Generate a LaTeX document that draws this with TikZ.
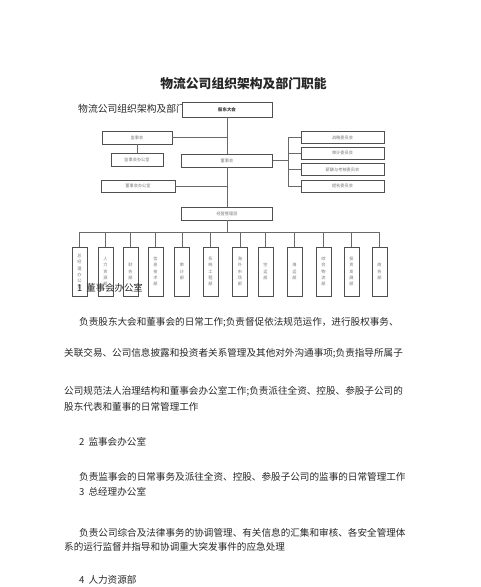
\documentclass[tikz,border=0pt]{standalone}
\usepackage{fontspec}
\setmainfont{Liberation Serif}
\newfontfamily\cjk{Noto Sans CJK SC}
\definecolor{linec}{RGB}{105,105,105}
\definecolor{boxc}{RGB}{80,80,80}
\definecolor{txtc}{RGB}{40,40,40}
\definecolor{smallc}{RGB}{120,120,120}
\begin{document}
\begin{tikzpicture}[x=1pt,y=-1pt,
  box/.style={draw=boxc, line width=0.9pt, inner sep=0pt, fill=white,
    font=\cjk\fontsize{4.2}{5}\selectfont, text=smallc},
  vbox/.style={box, minimum width=15pt, minimum height=49pt, align=center,
    font=\cjk\fontsize{4.2}{6.2}\selectfont},
  conn/.style={draw=linec, line width=0.8pt},
  body/.style={anchor=west, inner sep=0pt, text=txtc, font=\cjk\fontsize{9.6}{11}\selectfont}]
\useasboundingbox[fill=white] (0,0) rectangle (480,587);

% titles
\node[inner sep=0pt, text=black!85, font=\cjk\bfseries\fontsize{12.8}{14}\selectfont] (title) at (243.5,84) {物流公司组织架构及部门职能};
\node[body, font=\cjk\fontsize{9.8}{11}\selectfont] (sub) at (78,109) {物流公司组织架构及部门职能};

% chart boxes
\node[box, minimum width=90pt, minimum height=15pt, text=black!80, font=\cjk\bfseries\fontsize{4.4}{5}\selectfont] (gd) at (227,109.5) {股东大会};
\node[box, minimum width=70pt, minimum height=13pt] (jsh) at (137,137.5) {监事会};
\node[box, minimum width=52pt, minimum height=13pt] (jsb) at (137,159.5) {监事会办公室};
\node[box, minimum width=91pt, minimum height=13pt] (dsh) at (227,160.5) {董事会};
\node[box, minimum width=74pt, minimum height=12pt] (dsb) at (138,186) {董事会办公室};
\node[box, minimum width=83pt, minimum height=12pt] (c1) at (342.5,137.5) {战略委员会};
\node[box, minimum width=83pt, minimum height=12pt] (c2) at (342.5,153) {审计委员会};
\node[box, minimum width=83pt, minimum height=12pt] (c3) at (342.5,169.5) {薪酬与考核委员会};
\node[box, minimum width=83pt, minimum height=12pt] (c4) at (342.5,186) {提名委员会};
\node[box, minimum width=91pt, minimum height=13pt] (jy) at (227,213.5) {经营管理层};

\node[vbox] (b1) at (79.5,271.5) {总\\经\\理\\办\\公\\室};
\node[vbox] (b2) at (105.5,271.5) {人\\力\\资\\源\\部};
\node[vbox] (b3) at (130.5,271.5) {财\\务\\部};
\node[vbox] (b4) at (155.5,271.5) {信\\息\\技\\术\\部};
\node[vbox] (b5) at (182,271.5) {审\\计\\部};
\node[vbox] (b6) at (210.5,271.5) {系\\统\\工\\程\\部};
\node[vbox] (b7) at (240,271.5) {海\\外\\市\\场\\部};
\node[vbox] (b8) at (265.5,271.5) {空\\运\\部};
\node[vbox] (b9) at (294.5,271.5) {海\\运\\部};
\node[vbox] (b10) at (323.5,271.5) {综\\合\\物\\流\\部};
\node[vbox] (b11) at (351.5,271.5) {投\\资\\发\\展\\部};
\node[vbox] (b12) at (379.5,271.5) {商\\务\\部};

% connectors
\draw[conn] (gd.south) -- (dsh.north);
\draw[conn] (dsh.south) -- (jy.north);
\draw[conn] (jsh.east) -- (jsh.east -| gd.south);
\draw[conn] (jsh.south) -- (jsb.north);
\draw[conn] (dsb.east) -- (dsb.east -| gd.south);
\draw[conn] (dsh.east) -- ++(15,0) coordinate (br);
\draw[conn] (br |- c1.west) -- (br |- c4.west);
\foreach \c in {c1,c2,c3,c4} \draw[conn] (br |- \c.west) -- (\c.west);
\coordinate (bus) at ([yshift=-12pt]jy.south);
\draw[conn] (jy.south) -- (bus);
\draw[conn] (b1.north |- bus) -- (b12.north |- bus);
\foreach \b in {b1,b2,b3,b4,b5,b6,b7,b8,b9,b10,b11,b12} \draw[conn] (\b.north |- bus) -- (\b.north);

% body text
\node[body, font=\cjk\fontsize{9.4}{11}\selectfont] (h1) at (77,288) {1\hspace{4pt}董事会办公室};
\node[body] (p1) at (79,322) {负责股东大会和董事会的日常工作;负责督促依法规范运作，进行股权事务、};
\node[body] (p2) at (64,353) {关联交易、公司信息披露和投资者关系管理及其他对外沟通事项;负责指导所属子};
\node[body] (p3) at (64,391) {公司规范法人治理结构和董事会办公室工作;负责派往全资、控股、参股子公司的};
\node[body] (p4) at (64,407) {股东代表和董事的日常管理工作};
\node[body] (h2) at (79,442) {2\hspace{4pt}监事会办公室};
\node[body] (p5) at (79,477) {负责监事会的日常事务及派往全资、控股、参股子公司的监事的日常管理工作};
\node[body] (h3) at (79,492) {3\hspace{4pt}总经理办公室};
\node[body] (p6) at (79,533) {负责公司综合及法律事务的协调管理、有关信息的汇集和审核、各安全管理体};
\node[body] (p7) at (64,547) {系的运行监督并指导和协调重大突发事件的应急处理};
\node[body] (h4) at (79,580) {4\hspace{4pt}人力资源部};
\end{tikzpicture}
\end{document}
